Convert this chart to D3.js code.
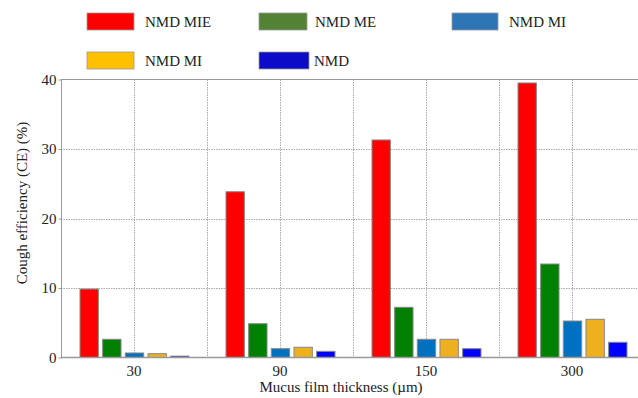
<!DOCTYPE html>
<html><head><meta charset="utf-8">
<script src="https://cdn.jsdelivr.net/npm/d3@7"></script>
<style>html,body{margin:0;padding:0;background:#fff;overflow:hidden}svg{display:block}</style>
</head><body><svg id="c" width="638" height="398"></svg>
<script>
const categories = ["30", "90", "150", "300"];
const seriesNames = ["NMD MIE", "NMD ME", "NMD MI", "NMD MI ", "NMD"];
const nmdMIE = [9.85, 23.85, 31.3, 39.5];
const nmdME = [2.62, 4.86, 7.22, 13.45];
const nmdMI = [0.65, 1.27, 2.62, 5.25];
const nmdMI2 = [0.55, 1.47, 2.62, 5.5];
const nmd = [0.2, 0.89, 1.27, 2.19];
const yTicks = [0, 10, 20, 30, 40];
const barColors = ["#ff0000", "#008000", "#0070c0", "#edb120", "#0000ff"];
const legendColors = ["#ff0000", "#548235", "#2e75b6", "#ffc000", "#0c0cc8"];
const seriesValues = [nmdMIE, nmdME, nmdMI, nmdMI2, nmd];

(function () {
const FF = "'Liberation Serif', 'Times New Roman', Times, 'DejaVu Serif', serif";
const svg = d3.select("#c");
const pL = 61, pR = 645, pT = 79.5, pB = 357.5;
const x0 = d3.scaleBand().domain(categories).range([pL, pR]).padding(0);
const x1 = d3.scaleBand().domain(d3.range(5)).range([19, x0.bandwidth() - 18]).paddingInner(0.19);
const y = d3.scaleLinear().domain([0, 40]).range([pB, pT]);

const grid = svg.append("g");
grid.selectAll("line.h").data(yTicks.filter(t => t > 0 && t < 40)).join("line")
  .attr("x1", pL).attr("x2", pR).attr("y1", d => Math.round(y(d)) + 0.5).attr("y2", d => Math.round(y(d)) + 0.5)
  .attr("stroke", "#aaa").attr("stroke-dasharray", "1.5,1");
const vx = [];
categories.forEach((c, i) => { vx.push(x0(c) + x0.bandwidth() / 2); if (i > 0) vx.push(x0(c)); });
grid.selectAll("line.v").data(vx).join("line")
  .attr("y1", pT).attr("y2", pB).attr("x1", d => Math.round(d) + 0.5).attr("x2", d => Math.round(d) + 0.5)
  .attr("stroke", "#aaa").attr("stroke-dasharray", "1.5,1");

const g = svg.append("g").selectAll("g").data(categories).join("g")
  .attr("transform", d => `translate(${x0(d)},0)`);
g.selectAll("rect").data((d, i) => seriesValues.map((s, k) => ({k, v: s[i]}))).join("rect")
  .attr("x", d => x1(d.k)).attr("width", x1.bandwidth())
  .attr("y", d => y(d.v)).attr("height", d => pB - y(d.v))
  .attr("fill", d => barColors[d.k]).attr("stroke", "#888").attr("stroke-width", 1);

svg.append("line").attr("x1", pL).attr("x2", pR).attr("y1", pT).attr("y2", pT).attr("stroke", "#999");
svg.append("line").attr("x1", pL).attr("x2", pR).attr("y1", pB).attr("y2", pB).attr("stroke", "#999").attr("stroke-width", 1.5);
svg.append("line").attr("x1", pL + 0.5).attr("x2", pL + 0.5).attr("y1", pT).attr("y2", pB).attr("stroke", "#999");

const yAxis = svg.append("g").attr("transform", `translate(${pL + 0.5},0)`)
  .call(d3.axisLeft(y).tickValues(yTicks).tickSize(3).tickFormat(d3.format("d")));
yAxis.attr("font-family", null).attr("font-size", null);
yAxis.select(".domain").remove();
yAxis.selectAll("line").attr("stroke", "#999");
yAxis.selectAll("text").style("font-family", FF).style("font-size", "15px").attr("fill", "#222").attr("x", -5);

const xAxis = svg.append("g").attr("transform", `translate(0,${pB})`)
  .call(d3.axisBottom(x0).tickSize(0).tickPadding(8));
xAxis.attr("font-family", null).attr("font-size", null);
xAxis.select(".domain").remove();
xAxis.selectAll("text").style("font-family", FF).style("font-size", "15px").attr("fill", "#222");

svg.append("text").attr("x", 341).attr("y", 392).attr("text-anchor", "middle")
  .style("font-family", FF).style("font-size", "15px").attr("fill", "#222").text("Mucus film thickness (\u00b5m)");
svg.append("text").attr("transform", "translate(27,203) rotate(-90)").attr("text-anchor", "middle")
  .style("font-family", FF).style("font-size", "15px").attr("fill", "#222").text("Cough efficiency (CE) (%)");

const legendPos = [[87, 13, 47], [259, 13, 48], [452, 13, 46], [87, 52, 47], [259, 52, 50]];
const legendText = [145, 315, 509, 145, 314];
const lg = svg.append("g").selectAll("g").data(seriesNames).join("g");
lg.append("rect").attr("x", (d, i) => legendPos[i][0]).attr("y", (d, i) => legendPos[i][1])
  .attr("width", (d, i) => legendPos[i][2]).attr("height", 17)
  .attr("fill", (d, i) => legendColors[i]).attr("stroke", "#999").attr("stroke-width", 0.8);
lg.append("text").attr("x", (d, i) => legendText[i]).attr("y", (d, i) => legendPos[i][1] + 14)
  .style("font-family", FF).style("font-size", "15px").attr("fill", "#222").text(d => d.trim());
})();
</script></body></html>
